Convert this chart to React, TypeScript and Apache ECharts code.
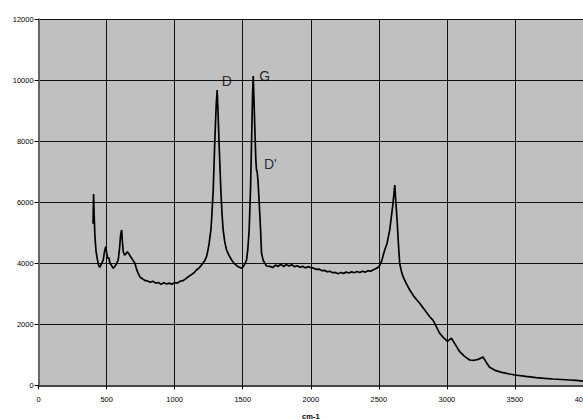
import React, { useEffect, useRef } from "react";
import * as echarts from "echarts";

const wavenumbers = [
  400, 404, 408, 414, 422, 430, 440, 449, 460, 475, 485, 493, 500, 508, 515, 525, 540, 548, 560, 572,
  585, 595, 603, 610, 616, 622, 632, 640, 652, 665, 676, 690, 708, 720, 732, 745, 760, 780, 800, 820,
  840, 860, 880, 900, 920, 940, 960, 980, 1000, 1020, 1040, 1060, 1080, 1100, 1120, 1140, 1160, 1180, 1200, 1220,
  1234, 1245, 1253, 1260, 1266, 1271, 1283, 1295, 1305, 1312, 1318, 1327, 1339, 1348, 1356, 1368, 1381, 1400, 1418, 1440,
  1466, 1480, 1491, 1505, 1518, 1528, 1538, 1547, 1557, 1565, 1572, 1577, 1583, 1589, 1596, 1601, 1606, 1612, 1620, 1631,
  1638, 1650, 1662, 1675, 1700, 1720, 1740, 1760, 1780, 1800, 1820, 1840, 1860, 1880, 1900, 1920, 1940, 1960, 1980, 2000,
  2020, 2040, 2060, 2080, 2100, 2120, 2140, 2160, 2180, 2200, 2220, 2240, 2260, 2280, 2300, 2320, 2340, 2360, 2380, 2400,
  2420, 2440, 2460, 2480, 2501, 2519, 2543, 2560, 2580, 2604, 2617, 2625, 2634, 2643, 2653, 2665, 2678, 2700, 2727, 2760,
  2800, 2840, 2874, 2900, 2947, 2975, 3004, 3033, 3060, 3094, 3130, 3167, 3200, 3230, 3265, 3290, 3314, 3360, 3412, 3460,
  3500, 3580, 3657, 3720, 3779, 3840, 3901, 3950, 4000,
];

const intensity = [
  5300, 6270, 5600, 4870, 4400, 4170, 3950, 3870, 3960, 4110, 4400, 4545, 4350, 4150, 4200, 4000, 3900, 3835, 3900, 3980,
  4110, 4500, 4950, 5090, 4700, 4380, 4270, 4300, 4380, 4300, 4215, 4120, 4000, 3800, 3670, 3550, 3500, 3440, 3420, 3380,
  3410, 3350, 3370, 3310, 3360, 3320, 3350, 3310, 3370, 3350, 3410, 3430, 3490, 3560, 3620, 3680, 3780, 3850, 3960, 4080,
  4216, 4450, 4655, 4900, 5092, 5420, 6403, 8043, 9200, 9682, 9000, 7823, 6403, 5600, 5092, 4700, 4436, 4250, 4108, 3980,
  3889, 3860, 3836, 3900, 4000, 4108, 4500, 5092, 6403, 8043, 9500, 10141, 9300, 8370, 7400, 7059, 7000, 6700, 6075, 5092,
  4328, 4100, 4000, 3911, 3900, 3860, 3940, 3900, 3970, 3890, 3960, 3910, 3950, 3890, 3920, 3870, 3900, 3850, 3890, 3860,
  3840, 3800, 3810, 3760, 3770, 3720, 3740, 3690, 3700, 3660, 3700, 3670, 3710, 3680, 3720, 3690, 3730, 3700, 3740, 3710,
  3760, 3740, 3790, 3830, 3889, 4052, 4436, 4650, 5092, 5967, 6567, 6000, 5420, 4700, 4000, 3750, 3561, 3350, 3125, 2900,
  2688, 2450, 2249, 2120, 1705, 1560, 1440, 1545, 1350, 1102, 950, 830, 820, 850, 930, 750, 590, 480, 413, 370,
  338, 290, 250, 225, 207, 190, 174, 160, 140,
];

const peakNames = ["D", "G", "D'"];
const peakLabelX = [1383, 1662, 1703];
const peakLabelY = [9993, 10141, 7272];

const xTicks = { min: 0, max: 4000, interval: 500 };
const yTicks = { min: 0, max: 12000, interval: 2000 };

export default function App() {
  const ref = useRef<HTMLDivElement>(null);

  useEffect(() => {
    if (!ref.current) return;
    const chart = echarts.init(ref.current, null, { renderer: "svg" });
    const axisFont = "'Liberation Sans', Arial, sans-serif";
    chart.setOption({
      animation: false,
      backgroundColor: "#ffffff",
      grid: {
        left: 38.6,
        top: 19.3,
        right: 0,
        bottom: 33.7,
        show: true,
        backgroundColor: "#C0C0C0",
        borderWidth: 0,
        containLabel: false,
        outerBoundsMode: "none",
      },
      xAxis: {
        type: "value",
        min: xTicks.min,
        max: xTicks.max,
        interval: xTicks.interval,
        name: "cm-1",
        nameLocation: "middle",
        nameGap: 27,
        nameTextStyle: { fontSize: 7.5, fontWeight: "bold", color: "#000", fontFamily: axisFont },
        axisLine: { show: true, lineStyle: { color: "#444", width: 2 } },
        axisTick: { show: true, length: 4, lineStyle: { color: "#000", width: 1 } },
        axisLabel: { fontSize: 7.5, color: "#000", margin: 10, fontFamily: axisFont, formatter: (v: number) => String(v) },
        splitLine: { show: true, lineStyle: { color: "#111", width: 1 } },
      },
      yAxis: {
        type: "value",
        min: yTicks.min,
        max: yTicks.max,
        interval: yTicks.interval,
        axisLine: { show: true, lineStyle: { color: "#666", width: 2 } },
        axisTick: { show: true, length: 4, lineStyle: { color: "#000", width: 1 } },
        axisLabel: { fontSize: 7.5, color: "#000", margin: 5, fontFamily: axisFont, formatter: (v: number) => String(v) },
        splitLine: { show: true, lineStyle: { color: "#111", width: 1 } },
      },
      series: [
        {
          type: "line",
          data: wavenumbers.map((w, i) => [w, intensity[i]]),
          showSymbol: false,
          symbol: "none",
          smooth: false,
          lineStyle: { color: "#000", width: 1.7 },
          silent: true,
          z: 3,
        },
        {
          type: "scatter",
          data: peakNames.map((n, i) => ({ name: n, value: [peakLabelX[i], peakLabelY[i]] })),
          symbolSize: 1,
          itemStyle: { color: "rgba(0,0,0,0)" },
          silent: true,
          label: {
            show: true,
            position: "inside",
            formatter: "{b}",
            fontSize: 14,
            color: "#000",
            textBorderWidth: 0,
            fontFamily: "'Liberation Sans', Arial, sans-serif",
          },
          z: 4,
        },
      ],
    });
    return () => chart.dispose();
  }, []);

  return (
    <div style={{ position: "fixed", left: 0, top: 0, width: 583, height: 419, overflow: "hidden", background: "#fff" }}>
      <div ref={ref} style={{ width: 583, height: 419 }} />
    </div>
  );
}
